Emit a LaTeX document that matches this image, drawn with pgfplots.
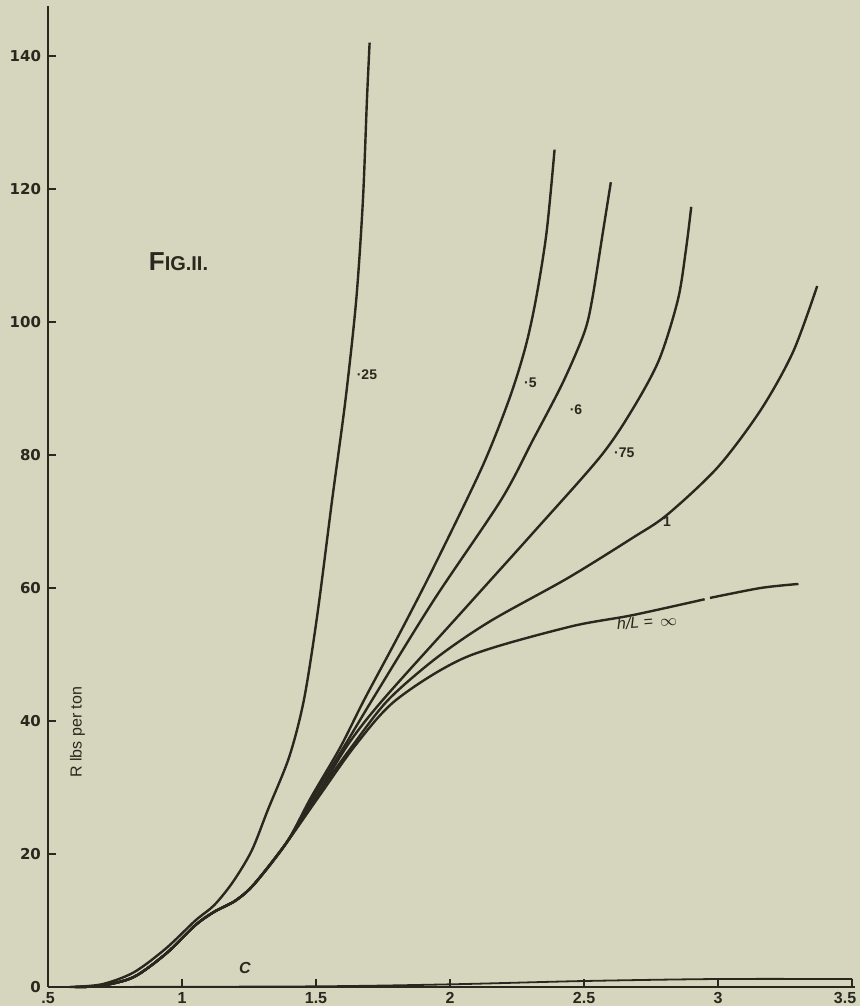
\documentclass[border=0pt]{standalone}
\usepackage{fontspec}
\setmainfont{Liberation Sans}
\newfontfamily\ytfont{DejaVu Sans}
\usepackage{pgfplots}
\pgfplotsset{compat=1.18}
\definecolor{paper}{RGB}{214,214,190}
\definecolor{ink}{RGB}{40,40,30}

\begin{document}
\begin{tikzpicture}
\fill[paper] (0,0) rectangle (430pt,503pt);
\useasboundingbox (0,0) rectangle (430pt,503pt);
\begin{axis}[
    at={(24pt,9.5pt)}, anchor=south west,
    scale only axis,
    width=403.5pt, height=490.5pt,
    xmin=0.5, xmax=3.511,
    ymin=0, ymax=147.5,
    axis lines=left,
    axis line style={ink, line width=1pt, -},
    xtick={0.5,1,1.5,2,2.5,3,3.5},
    xticklabels={.5,1,1.5,2,2.5,3,{\hspace*{-7pt}3.5}},
    ytick={0,20,40,60,80,100,120,140},
    tick align=inside,
    major tick length=4pt,
    tick style={ink, line width=0.8pt},
    xticklabel style={font=\bfseries\footnotesize, text=ink, yshift=1pt},
    yticklabel style={font=\ytfont\bfseries\fontsize{7.5}{8}\selectfont, text=ink},
    /pgf/number format/assume math mode=true,
    clip=false,
]
% h/L = .25
\addplot[ink, line width=1.2pt, smooth, tension=0.5] coordinates {
    (0.58,0) (0.70,0.4) (0.82,2.2) (0.94,5.8) (1.05,10.0) (1.12,12.3)
    (1.19,15.8) (1.26,20.5) (1.32,26.6) (1.40,34.6) (1.455,43.2)
    (1.505,56) (1.56,73.2) (1.61,88.3) (1.65,103.3) (1.675,118.3)
    (1.69,133.4) (1.70,142)
};
% h/L = .5
\addplot[ink, line width=1.2pt, smooth, tension=0.5] coordinates {
    (0.60,0) (0.70,0.2) (0.82,1.5) (0.94,5.0) (1.05,9.3) (1.12,11.3)
    (1.20,13.0) (1.27,15.5) (1.39,21.7) (1.48,28.4) (1.59,36) (1.68,43.2)
    (1.81,53) (1.94,63.2) (2.12,78.2) (2.22,88.3) (2.28,96) (2.32,103.3)
    (2.36,113.4) (2.39,125.9)
};
% h/L = .6
\addplot[ink, line width=1.2pt, smooth, tension=0.5] coordinates {
    (0.60,0) (0.70,0.2) (0.82,1.5) (0.94,5.0) (1.05,9.3) (1.12,11.3)
    (1.20,13.0) (1.27,15.5) (1.39,21.7) (1.49,28.6) (1.61,36.5) (1.71,43.2)
    (1.94,58.2) (2.19,73.2) (2.31,82.3) (2.42,90.8) (2.50,98.3) (2.53,103.3)
    (2.57,113.4) (2.60,121)
};
% h/L = .75
\addplot[ink, line width=1.2pt, smooth, tension=0.5] coordinates {
    (0.60,0) (0.70,0.2) (0.82,1.5) (0.94,5.0) (1.05,9.3) (1.12,11.3)
    (1.20,13.0) (1.27,15.5) (1.39,21.7) (1.50,28.6) (1.62,36.5) (1.75,43.2)
    (2.06,57.1) (2.31,68.3) (2.56,79.7) (2.68,86.8) (2.78,94.3) (2.85,103.3)
    (2.88,110.8) (2.90,117.3)
};
% h/L = 1
\addplot[ink, line width=1.2pt, smooth, tension=0.5] coordinates {
    (0.60,0) (0.70,0.2) (0.82,1.5) (0.94,5.0) (1.05,9.3) (1.12,11.3)
    (1.20,13.0) (1.27,15.5) (1.39,21.7) (1.50,28.6) (1.64,36.5) (1.77,43.2)
    (1.95,49.5) (2.15,55) (2.44,61.5) (2.68,67.5) (2.81,71.0) (3.0,78.2)
    (3.16,86.8) (3.28,95.5) (3.37,105.4)
};
% h/L = infinity (broken near 2.96)
\addplot[ink, line width=1.2pt, smooth, tension=0.5] coordinates {
    (0.60,0) (0.70,0.2) (0.82,1.5) (0.94,5.0) (1.05,9.3) (1.12,11.3)
    (1.20,13.0) (1.27,15.5) (1.39,21.7) (1.51,28.6) (1.65,36.5) (1.80,43.2)
    (2.06,49.6) (2.44,54.1) (2.68,55.9) (2.95,58.3)
};
\addplot[ink, line width=1.2pt, smooth, tension=0.5] coordinates {
    (2.97,58.5) (3.16,60) (3.30,60.6)
};
% curve C
\addplot[ink, line width=0.9pt, smooth, tension=0.5] coordinates {
    (0.62,0) (1.5,0.1) (2.0,0.4) (2.5,0.9) (3.0,1.2) (3.5,1.2)
};

\node[ink, font=\scriptsize\bfseries] at (axis cs:1.69,92) {·25};
\node[ink, font=\scriptsize\bfseries] at (axis cs:2.30,90.8) {·5};
\node[ink, font=\scriptsize\bfseries] at (axis cs:2.47,86.8) {·6};
\node[ink, font=\scriptsize\bfseries] at (axis cs:2.65,80.3) {·75};
\node[ink, font=\scriptsize\bfseries] at (axis cs:2.81,69.9) {1};
\node[ink, font=\footnotesize, rotate=4] at (axis cs:2.735,54.9) {\textit{h/L} = \,$\infty$};
\node[ink, font=\footnotesize\bfseries\itshape] at (axis cs:1.235,2.8) {C};
\node[ink, rotate=90, font=\footnotesize] at (axis cs:0.61,38.3) {R lbs per ton};
\node[ink, anchor=west] at (axis cs:0.85,109) {\bfseries\fontsize{13}{13}\selectfont F\fontsize{10}{10}\selectfont IG.II.};
\end{axis}
\end{tikzpicture}
\end{document}
